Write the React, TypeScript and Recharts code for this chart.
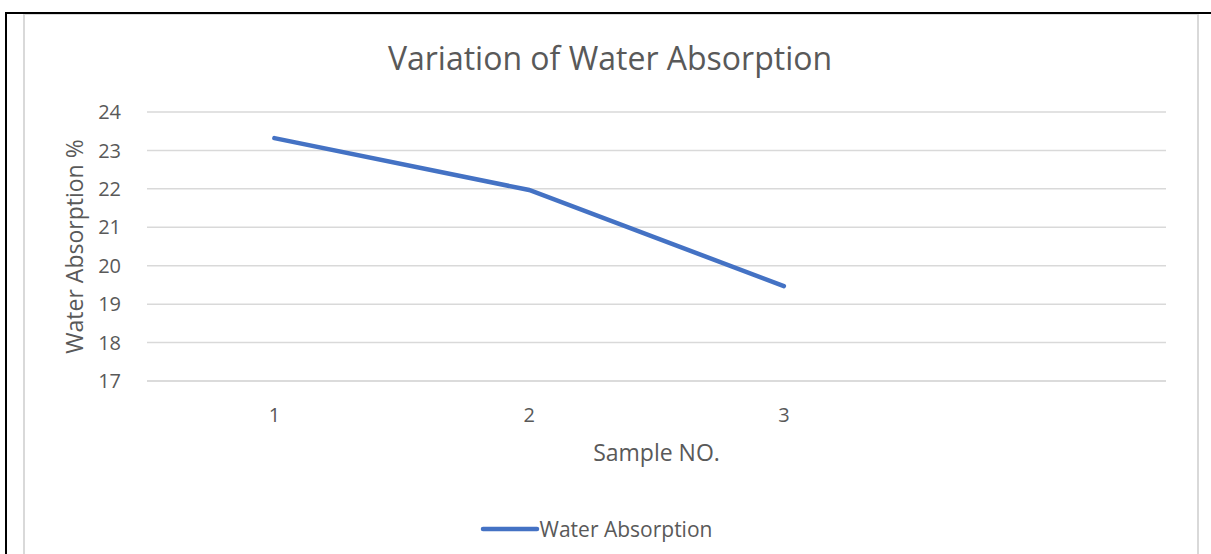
import { LineChart, Line, XAxis, YAxis, CartesianGrid, Legend } from "recharts";

const categories = ["1", "2", "3", ""];
const waterAbsorption = [23.32, 21.97, 19.47, null];
const yTicks = [17, 18, 19, 20, 21, 22, 23, 24];

const FONT = "'Open Sans', sans-serif";
const TEXT = "#595959";
const GRID = "#d9d9d9";
const BLUE = "#4472C4";

const data = categories.map((c, i) => ({ sample: c, value: waterAbsorption[i] }));

function LegendContent() {
  return (
    <div style={{ display: "flex", justifyContent: "center", alignItems: "center" }}>
      <svg width={60} height={10}>
        <line x1={3} y1={5} x2={57} y2={5} stroke={BLUE} strokeWidth={4.5} strokeLinecap="round" />
      </svg>
      <span style={{ fontFamily: FONT, fontSize: 21, color: TEXT }}>Water Absorption</span>
    </div>
  );
}

export default function App() {
  return (
    <div style={{ position: "fixed", left: 0, top: 0, width: 1211, height: 554, background: "#fff", overflow: "hidden" }}>
      {/* chart frame */}
      <div
        style={{
          position: "absolute",
          left: 23,
          top: 14,
          width: 1172,
          height: 560,
          border: `2px solid ${GRID}`,
          borderTop: `1px solid ${GRID}`,
        }}
      />
      <div
        style={{
          position: "absolute",
          left: 23,
          width: 1174,
          top: 36,
          textAlign: "center",
          fontFamily: FONT,
          fontSize: 32,
          color: TEXT,
        }}
      >
        Variation of Water Absorption
      </div>
      <div style={{ position: "absolute", left: 0, top: 0 }}>
        <LineChart width={1211} height={554} data={data} margin={{ top: 112, right: 45, bottom: 93, left: 67 }}>
          <CartesianGrid vertical={false} stroke={GRID} strokeWidth={1.5} />
          <XAxis
            dataKey="sample"
            scale="band"
            height={80}
            axisLine={{ stroke: GRID, strokeWidth: 1.5 }}
            tickLine={false}
            tickMargin={21}
            tick={{ fill: TEXT, fontSize: 20, fontFamily: FONT }}
            label={{ value: "Sample NO.", position: "center", dy: 32, fill: TEXT, fontSize: 23, fontFamily: FONT }}
          />
          <YAxis
            width={80}
            domain={[17, 24]}
            ticks={yTicks}
            axisLine={false}
            tickLine={false}
            tickMargin={20}
            tick={{ fill: TEXT, fontSize: 20, fontFamily: FONT }}
            label={{ value: "Water Absorption %", angle: -90, position: "center", dx: -32, fill: TEXT, fontSize: 23, fontFamily: FONT }}
          />
          <Legend
            verticalAlign="middle"
            align="center"
            layout="horizontal"
            content={<LegendContent />}
            wrapperStyle={{ top: 515, left: 0, width: 1192 }}
          />
          <Line
            type="linear"
            dataKey="value"
            stroke={BLUE}
            strokeWidth={4.5}
            strokeLinecap="round"
            dot={false}
            activeDot={false}
            isAnimationActive={false}
          />
        </LineChart>
      </div>
      {/* page border lines */}
      <svg width={1211} height={554} style={{ position: "absolute", left: 0, top: 0, pointerEvents: "none" }}>
        <rect x={5} y={12} width={1206} height={2} fill="#000" />
        <rect x={5} y={12} width={2} height={542} fill="#000" />
      </svg>
    </div>
  );
}
